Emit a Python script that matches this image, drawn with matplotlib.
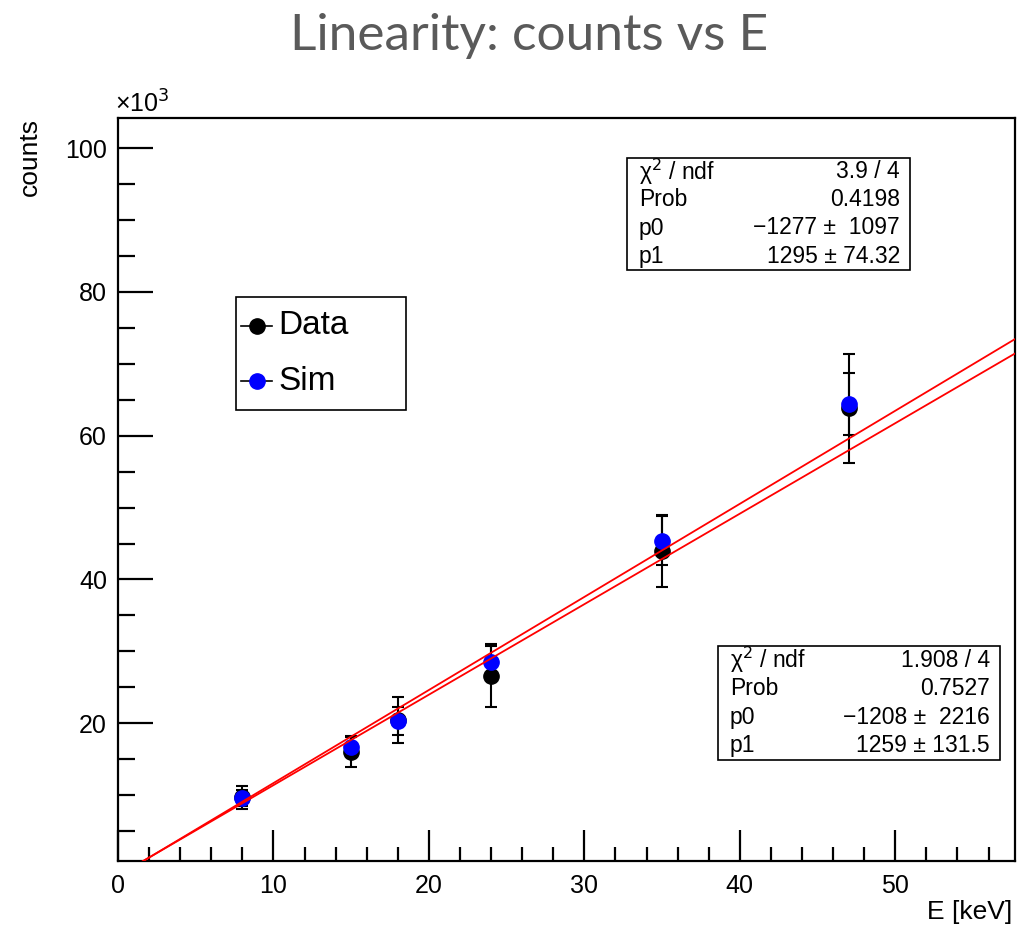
import numpy as np
import matplotlib
matplotlib.use("Agg")
import matplotlib.pyplot as plt
from matplotlib.patches import Rectangle
from matplotlib.lines import Line2D

plt.rcParams['font.family'] = ['Liberation Sans', 'DejaVu Sans']

# energia dos pontos (keV)
energy = [8, 15, 18, 24, 35, 47]

# contagens medidas e simuladas
data_counts = [9700, 16050, 20450, 26500, 43900, 63800]
data_err = [1600, 2150, 3250, 4200, 5000, 7600]
sim_counts = [9600, 16700, 20300, 28500, 45400, 64400]
sim_err = [1100, 1400, 1900, 2500, 3400, 4300]

# parametros dos ajustes lineares (p0 + p1*E)
fit_sim = [-1277, 1295]
fit_data = [-1208, 1259]

stats_sim = [("χ$^{2}$ / ndf", "3.9 / 4"), ("Prob", "0.4198"),
             ("p0", "−1277 ±  1097"), ("p1", "1295 ± 74.32")]
stats_data = [("χ$^{2}$ / ndf", "1.908 / 4"), ("Prob", "0.7527"),
              ("p0", "−1208 ±  2216"), ("p1", "1259 ± 131.5")]

legend_labels = ["Data", "Sim"]
legend_colors = ["black", "#0000ff"]

W, H = 1020, 926


def fx(x):
    return x / W


def fy(y):
    return 1 - y / H


fig = plt.figure(figsize=(W / 100, H / 100), dpi=100)
ax = fig.add_axes([fx(118), fy(860.5), fx(1015) - fx(118), fy(118) - fy(860.5)])

xmax = 57.7
ax.set_xlim(0, xmax)
ax.set_ylim(0.9, 104.2)

# pontos com barras de erro
ax.errorbar(energy, np.array(data_counts) / 1e3, yerr=np.array(data_err) / 1e3,
            fmt='o', color='black', ecolor='black', ms=11, elinewidth=1.5,
            capsize=4.5, capthick=1.5, zorder=3)
ax.errorbar(energy, np.array(sim_counts) / 1e3, yerr=np.array(sim_err) / 1e3,
            fmt='o', color='#0000ff', ecolor='black', ms=11, elinewidth=1.5,
            capsize=4.5, capthick=1.5, zorder=4)

# retas dos ajustes
xs = np.linspace(0, xmax, 200)
for p0, p1 in (fit_sim, fit_data):
    ax.plot(xs, (p0 + p1 * xs) / 1e3, color='#ff0000', lw=1.3, zorder=5)

# eixos estilo ROOT
for s in ax.spines.values():
    s.set_linewidth(1.6)
ax.set_xticks([0, 10, 20, 30, 40, 50])
ax.set_xticks(np.arange(0, 58, 2), minor=True)
ax.set_yticks([20, 40, 60, 80, 100])
ax.set_yticks(np.arange(5, 104, 5), minor=True)
ax.tick_params(which='both', direction='in', top=False, right=False,
               labelsize=18, width=1.6)
ax.tick_params(axis='x', which='major', length=22, pad=10)
ax.tick_params(axis='x', which='minor', length=10)
ax.tick_params(axis='y', which='major', length=25, pad=8)
ax.tick_params(axis='y', which='minor', length=12)

fig.text(fx(1012), fy(912), "E [keV]", ha='right', va='center', fontsize=19)
fig.text(fx(30), fy(118), "counts", ha='center', va='top', rotation=90, fontsize=19)
fig.text(fx(115), fy(104), r"×10$^{3}$", ha='left', va='center', fontsize=18)

# titulo
fig.text(fx(529), fy(36), "Linearity: counts vs E", ha='center', va='center',
         fontsize=37, color='#5a5a5a', family=['Lato', 'DejaVu Sans'])

# legenda (desenhada a mao, estilo TLegend)
fig.patches.append(Rectangle((fx(236), fy(410)), fx(406) - fx(236), fy(297) - fy(410),
                             transform=fig.transFigure, facecolor='white',
                             edgecolor='black', lw=1.2))
for i, (lab, col) in enumerate(zip(legend_labels, legend_colors)):
    yc = 326 + 55 * i
    fig.lines.append(Line2D([fx(241), fx(272)], [fy(yc), fy(yc)], color='black',
                            lw=1.2, transform=fig.transFigure))
    fig.lines.append(Line2D([fx(257)], [fy(yc)], marker='o', ms=11, color=col,
                            transform=fig.transFigure))
    fig.text(fx(278), fy(yc), lab, ha='left', va='center', fontsize=24)


# caixas de estatistica
def stat_box(x0, y0, x1, y1, rows):
    fig.patches.append(Rectangle((fx(x0), fy(y1)), fx(x1) - fx(x0), fy(y0) - fy(y1),
                                 transform=fig.transFigure, fill=True,
                                 facecolor='white', edgecolor='black', lw=1.2))
    step = (y1 - y0) / len(rows)
    for i, (name, val) in enumerate(rows):
        yc = y0 + step * (i + 0.5)
        fig.text(fx(x0 + 12), fy(yc), name, ha='left', va='center', fontsize=16.5)
        fig.text(fx(x1 - 10), fy(yc), val, ha='right', va='center', fontsize=16.5)


stat_box(627, 158, 910, 270, stats_sim)
stat_box(718, 646, 1000, 760, stats_data)

fig.savefig("out.png", dpi=100, facecolor='white')
